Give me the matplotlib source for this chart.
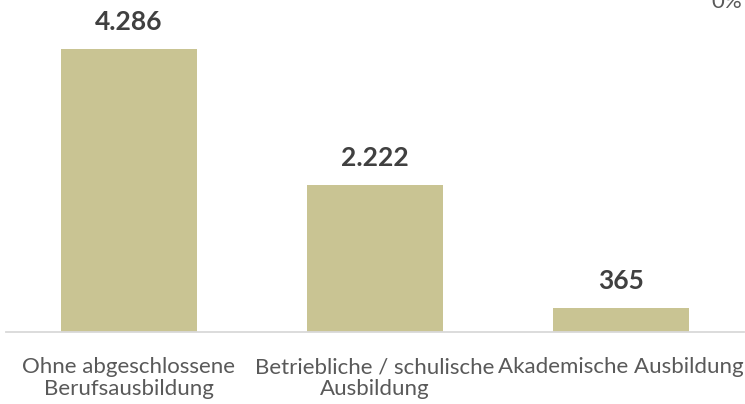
import matplotlib
matplotlib.use("Agg")
import matplotlib.pyplot as plt

categories = ["Ohne abgeschlossene\nBerufsausbildung", "Betriebliche / schulische\nAusbildung", "Akademische Ausbildung"]
values = [4286, 2222, 365]
value_labels = ["4.286", "2.222", "365"]

plt.rcParams['font.family'] = ['Lato', 'DejaVu Sans']

fig = plt.figure(figsize=(7.45, 4.04), dpi=100)
ax = fig.add_axes([6/745, 1 - 332/404, 738/745, 330/404])
x = list(range(len(values)))
ax.bar(x, values, width=0.554, color="#C9C493", zorder=2)
ax.set_xlim(-0.5, 2.5)
ax.set_ylim(0, 5000)
for s in ["top", "right", "left"]:
    ax.spines[s].set_visible(False)
ax.spines["bottom"].set_color("#D9D9D9")
ax.spines["bottom"].set_linewidth(1.3)
ax.set_yticks([])
ax.set_xticks(x)
ax.set_xticklabels(categories, fontsize=16, color="#595959", linespacing=1.1)
ax.tick_params(axis="x", length=0, pad=18)
for xi, v, lab in zip(x, values, value_labels):
    ax.annotate(lab, (xi, v), xytext=(0, 13.7), textcoords="offset points",
                ha="center", va="baseline", fontsize=19, fontweight="bold",
                color="#404040")
fig.text(1 - 3/745, 1 - 8/404, "0%", ha="right", va="baseline", fontsize=16, color="#595959")
fig.savefig("out.png", dpi=100)
